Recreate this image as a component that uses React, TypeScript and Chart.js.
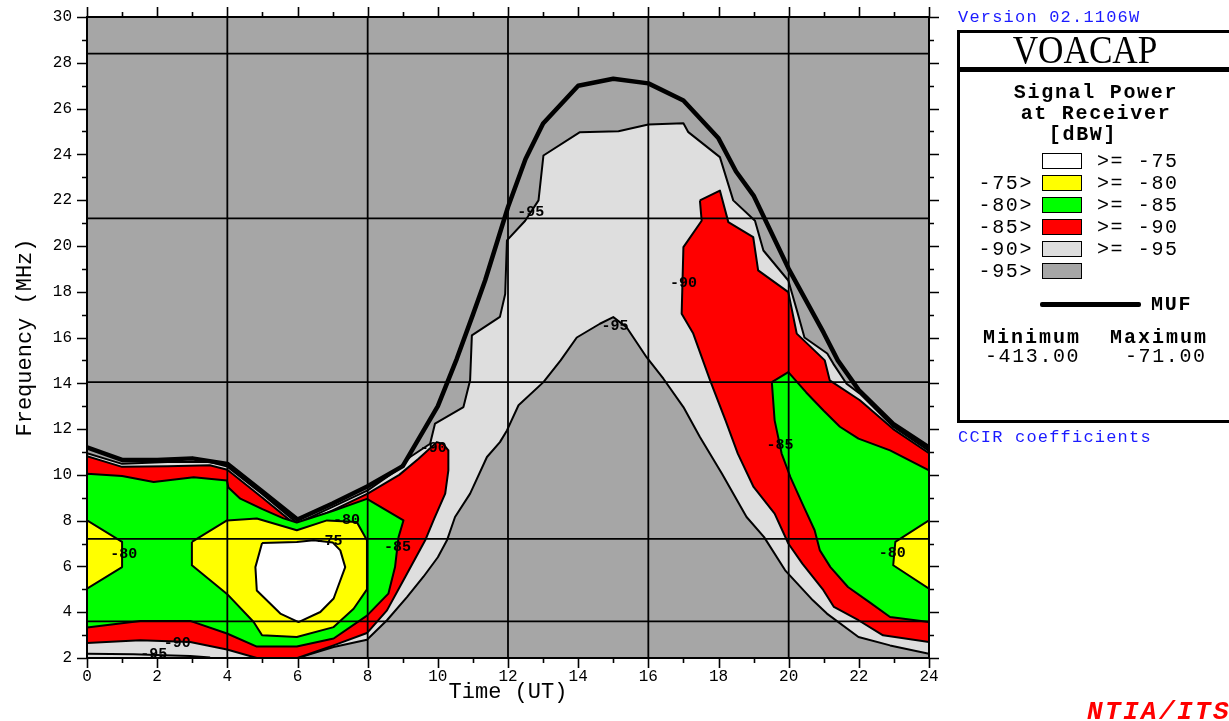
import React, { useEffect, useRef } from "react";
import { Chart, registerables } from "chart.js";

Chart.register(...registerables);

type P = [number, number];

// ---------- axis ranges ----------
const HOUR_MIN = 0;
const HOUR_MAX = 24;
const FREQ_MIN = 2;
const FREQ_MAX = 30;
const TICK_STEP = 2;

// ---------- reference lines ----------
const GRID_HOURS = [4, 8, 12, 16, 20];
const OPERATING_FREQS = [3.6, 7.2, 14.05, 21.2, 28.4];

// ---------- colours ----------
const C_WHITE = "#ffffff";
const C_YELLOW = "#ffff00";
const C_GREEN = "#00ff00";
const C_RED = "#ff0000";
const C_LGRAY = "#dedede";
const C_DGRAY = "#a6a6a6";

// ---------- MUF (t [UT], f [MHz]) ----------
const MUF: P[] = [
  [0, 11.2], [1, 10.65], [2, 10.65], [3, 10.72], [4, 10.48], [5, 9.27], [6, 8.05], [7, 8.75],
  [8, 9.5], [9, 10.38], [10, 13.0], [10.54, 15.07], [11, 17.0], [11.35, 18.5], [12, 21.7],
  [12.5, 23.8], [13, 25.35], [14, 27.0], [15, 27.3], [16, 27.1], [17, 26.35], [18, 24.7],
  [18.5, 23.25], [19, 22.2], [20, 19.0], [21, 16.2], [21.4, 15.0], [22, 13.7], [23, 12.2], [24, 11.2],
];

// ---------- >= -95 dBW region (outer contour) ----------
const GRAY_95: P[] = [
  [0, 10.95], [1, 10.48], [2.3, 10.56], [3.5, 10.56], [4, 10.36], [5, 9.15], [6, 7.88], [7, 8.6],
  [8, 9.32], [8.83, 10.2], [9.21, 10.78], [9.78, 11.36], [9.92, 12.24], [10.73, 12.96], [10.92, 14.13],
  [10.97, 16.09], [11.77, 16.9], [11.92, 17.9], [11.97, 20.24], [12.49, 21.1], [12.87, 21.99],
  [13.01, 23.95], [14.05, 24.97], [15.15, 25.01], [16, 25.3], [17, 25.36], [17.14, 24.97],
  [18.04, 23.88], [18.42, 21.99], [19.04, 21.1], [19.28, 19.8], [19.99, 18.49], [20.25, 17.1],
  [20.45, 16.0], [21.1, 15.3], [21.27, 14.86], [21.65, 13.98], [22.03, 13.55], [22.98, 12.1],
  [24, 11.05], [24, 2], [0, 2], [0, 10.95],
];

// ---------- < -95 dBW hole under the daytime hump ----------
const HOLE_95: P[] = [
  [6.0, 2.0], [7.03, 2.48], [7.98, 2.8], [8.55, 3.65], [9.12, 4.66], [9.59, 5.55], [10.0, 6.4],
  [10.26, 7.14], [10.49, 8.16], [10.92, 9.18], [11.4, 10.78], [11.77, 11.43], [11.97, 11.94],
  [12.3, 13.04], [13.01, 14.05], [13.5, 15.0], [13.96, 16.0], [14.62, 16.6], [15.0, 16.89],
  [15.38, 16.45], [15.95, 15.14], [16.43, 14.2], [17.0, 12.96], [17.47, 11.65], [18.1, 10.05],
  [18.8, 8.16], [19.3, 7.28], [19.9, 5.83], [20.69, 4.52], [21.09, 3.94], [21.99, 2.92],
  [22.89, 2.55], [24, 2.19], [24, 2], [6.0, 2.0],
];

// ---------- >= -90 dBW regions ----------
const RED_90_NIGHT: P[] = [
  [0, 10.82], [1, 10.35], [2.3, 10.38], [3.5, 10.42], [4, 10.22], [5, 9.0], [6, 7.75], [7, 8.45],
  [8, 9.18], [8.9, 10.0], [9.45, 10.7], [9.97, 11.43], [10.15, 11.35], [10.3, 11.07], [10.3, 10.2],
  [10.21, 9.18], [9.9, 8.1], [9.64, 7.14], [9.07, 5.54], [8.55, 4.08], [7.98, 3.09], [7.03, 2.55],
  [6.0, 2.0], [4.84, 2.0], [3.99, 2.37], [2.94, 2.7], [1.52, 2.77], [0, 2.65], [0, 10.82],
];
const RED_90_EVENING: P[] = [
  [17.47, 21.99], [18.04, 22.42], [18.28, 21.04], [18.99, 20.38], [19.13, 18.93], [19.99, 17.98],
  [20.23, 16.17], [21.03, 15.0], [21.17, 14.13], [22.03, 13.26], [22.98, 12.0], [24, 10.95],
  [24, 2.7], [22.69, 2.99], [21.99, 3.65], [21.29, 4.23], [20.99, 4.96], [20.39, 6.12], [19.99, 7.0],
  [19.6, 8.31], [19.0, 9.47], [18.55, 10.93], [18.2, 12.38], [17.76, 14.13], [17.28, 16.17],
  [16.95, 17.04], [17.0, 19.95], [17.52, 21.1], [17.47, 21.99],
];

// ---------- >= -85 dBW regions ----------
const GREEN_85_NIGHT: P[] = [
  [0, 10.05], [1, 9.95], [1.9, 9.69], [3.04, 9.9], [3.99, 9.75], [4.03, 9.45], [4.37, 8.96],
  [5.0, 8.5], [5.6, 8.1], [5.98, 7.92], [7.0, 8.42], [7.98, 8.95], [9.02, 8.01], [8.88, 7.28],
  [8.78, 5.97], [8.59, 4.81], [7.98, 3.85], [7.03, 2.85], [5.98, 2.5], [4.84, 2.5], [3.99, 3.07],
  [2.94, 3.62], [1.52, 3.62], [0, 3.33], [0, 10.05],
];
const GREEN_85_EVENING: P[] = [
  [19.52, 14.05], [19.99, 14.49], [20.5, 13.6], [21.0, 12.8], [21.46, 12.1], [21.99, 11.58],
  [22.89, 11.07], [24, 10.2], [24, 3.57], [22.89, 3.79], [22.29, 4.45], [21.69, 5.1], [21.19, 5.97],
  [20.89, 6.7], [20.74, 7.58], [20.39, 8.74], [20.05, 9.9], [19.8, 10.93], [19.6, 12.38], [19.52, 14.05],
];

// ---------- >= -80 dBW regions ----------
const YELLOW_80_START: P[] = [[0, 8.01], [1, 7.07], [1, 5.97], [0, 5.03], [0, 8.01]];
const YELLOW_80_DAWN: P[] = [
  [2.99, 7.07], [3.99, 8.01], [4.84, 8.09], [5.98, 7.58], [6.84, 8.01], [7.69, 7.94], [7.98, 7.14],
  [7.98, 5.0], [7.6, 4.15], [7.03, 3.35], [5.98, 2.92], [4.99, 2.99], [4.75, 3.57], [3.99, 4.8],
  [2.99, 6.05], [2.99, 7.07],
];
const YELLOW_80_END: P[] = [[24, 8.01], [23.04, 7.07], [22.98, 6.05], [24, 5.03], [24, 8.01]];

// ---------- >= -75 dBW region ----------
const WHITE_75: P[] = [
  [4.99, 7.02], [5.98, 7.07], [6.46, 7.14], [7.0, 7.05], [7.22, 6.7], [7.36, 5.97], [7.03, 4.6],
  [6.65, 4.01], [6.03, 3.57], [5.51, 3.94], [4.84, 4.95], [4.8, 5.97], [4.99, 7.02],
];

// ---------- -95 contour near the bottom edge ----------
const LINE_95_BOTTOM: P[] = [[0, 2.19], [1.33, 2.16], [2.18, 2.12], [2.94, 2.09], [3.51, 2.02]];

// ---------- contour labels ----------
const LABEL_T = [1.05, 7.4, 6.9, 8.85, 9.87, 2.57, 1.9, 12.65, 17.0, 15.05, 19.75, 22.95];
const LABEL_F = [6.55, 8.0, 7.1, 6.85, 11.15, 2.65, 2.15, 21.48, 18.37, 16.5, 11.3, 6.57];
const LABEL_TEXT = ["-80", "-80", "-75", "-85", "-90", "-90", "-95", "-95", "-90", "-95", "-85", "-80"];

// ---------- legend ----------
const LEGEND_LEFT = ["", "-75>", "-80>", "-85>", "-90>", "-95>"];
const LEGEND_RIGHT = [">= -75", ">= -80", ">= -85", ">= -90", ">= -95", ""];
const LEGEND_COLORS = [C_WHITE, C_YELLOW, C_GREEN, C_RED, C_LGRAY, C_DGRAY];
const MIN_VALUE = "-413.00";
const MAX_VALUE = "-71.00";

const MONO = '"Liberation Mono", "DejaVu Sans Mono", monospace';

const toXY = (pts: P[]) => pts.map(([x, y]) => ({ x, y }));

const polygon = (pts: P[], color: string) => ({
  data: toXY(pts),
  fill: "shape",
  backgroundColor: color,
  borderColor: "#000",
  borderWidth: 2,
  borderJoinStyle: "round",
  pointRadius: 0,
  tension: 0,
});

const line = (pts: P[], width: number) => ({
  data: toXY(pts),
  fill: false,
  borderColor: "#000",
  borderWidth: width,
  borderJoinStyle: "round",
  borderCapStyle: "butt",
  pointRadius: 0,
  tension: 0,
});

const bgPlugin = {
  id: "plotBackground",
  beforeDatasetsDraw(chart: any) {
    const { ctx, chartArea: a } = chart;
    ctx.save();
    ctx.fillStyle = C_DGRAY;
    ctx.fillRect(a.left, a.top, a.right - a.left, a.bottom - a.top);
    ctx.restore();
  },
};

const labelPlugin = {
  id: "contourLabels",
  afterDatasetsDraw(chart: any) {
    const { ctx } = chart;
    const xs = chart.scales.x;
    const ys = chart.scales.y;
    ctx.save();
    ctx.font = `bold 15px ${MONO}`;
    ctx.fillStyle = "#000";
    ctx.textAlign = "center";
    ctx.textBaseline = "middle";
    LABEL_TEXT.forEach((s, i) => {
      ctx.fillText(s, xs.getPixelForValue(LABEL_T[i]), ys.getPixelForValue(LABEL_F[i]));
    });
    ctx.restore();
  },
};

const framePlugin = {
  id: "frameTicks",
  afterDraw(chart: any) {
    const { ctx, chartArea: a } = chart;
    const xs = chart.scales.x;
    const ys = chart.scales.y;
    ctx.save();
    ctx.strokeStyle = "#000";
    ctx.lineWidth = 1.6;
    ctx.beginPath();
    for (let h = HOUR_MIN; h <= HOUR_MAX; h += 1) {
      const px = Math.round(xs.getPixelForValue(h)) + 0.5;
      const len = h % TICK_STEP === 0 ? 10 : 5;
      ctx.moveTo(px, a.bottom);
      ctx.lineTo(px, a.bottom + len);
      ctx.moveTo(px, a.top);
      ctx.lineTo(px, a.top - len);
    }
    for (let f = FREQ_MIN; f <= FREQ_MAX; f += 1) {
      const py = Math.round(ys.getPixelForValue(f)) + 0.5;
      const len = f % TICK_STEP === 0 ? 10 : 5;
      ctx.moveTo(a.left, py);
      ctx.lineTo(a.left - len, py);
      ctx.moveTo(a.right, py);
      ctx.lineTo(a.right + len, py);
    }
    ctx.stroke();
    ctx.lineWidth = 2;
    ctx.strokeRect(a.left, a.top, a.right - a.left, a.bottom - a.top);
    ctx.restore();
  },
};

function Txt(props: {
  x: number;
  y: number;
  size: number;
  align?: "left" | "center" | "right";
  bold?: boolean;
  italic?: boolean;
  color?: string;
  spacing?: number;
  family?: string;
  children: React.ReactNode;
}) {
  const { x, y, size, align = "left", bold, italic, color = "#000", spacing = 0, family = MONO } = props;
  const tx = align === "center" ? "translateX(-50%)" : align === "right" ? "translateX(-100%)" : "none";
  return (
    <div
      style={{
        position: "absolute",
        left: x,
        top: y - 0.44 * size,
        lineHeight: `${size}px`,
        fontSize: size,
        fontFamily: family,
        fontWeight: bold ? "bold" : "normal",
        fontStyle: italic ? "italic" : "normal",
        color,
        letterSpacing: spacing,
        whiteSpace: "pre",
        transform: tx,
      }}
    >
      {props.children}
    </div>
  );
}

export default function App() {
  const ref = useRef<HTMLCanvasElement>(null);

  useEffect(() => {
    const canvas = ref.current;
    if (!canvas) return;

    const layers: any[] = [
      polygon(GRAY_95, C_LGRAY),
      polygon(HOLE_95, C_DGRAY),
      polygon(RED_90_NIGHT, C_RED),
      polygon(RED_90_EVENING, C_RED),
      polygon(GREEN_85_NIGHT, C_GREEN),
      polygon(GREEN_85_EVENING, C_GREEN),
      polygon(YELLOW_80_START, C_YELLOW),
      polygon(YELLOW_80_DAWN, C_YELLOW),
      polygon(YELLOW_80_END, C_YELLOW),
      polygon(WHITE_75, C_WHITE),
      line(LINE_95_BOTTOM, 2),
      ...GRID_HOURS.map((h) => line([[h, FREQ_MIN], [h, FREQ_MAX]], 1.8)),
      ...OPERATING_FREQS.map((f) => line([[HOUR_MIN, f], [HOUR_MAX, f]], 1.8)),
      line(MUF, 4.5),
    ];
    const datasets = layers.map((d, i) => ({ ...d, order: layers.length - i }));

    const chart = new Chart(canvas, {
      type: "line",
      data: { datasets },
      options: {
        responsive: false,
        animation: false,
        devicePixelRatio: 1,
        events: [],
        layout: { padding: { left: 0, top: 17, right: 300, bottom: 0 } },
        plugins: { legend: { display: false }, tooltip: { enabled: false } },
        scales: {
          x: {
            type: "linear",
            min: HOUR_MIN,
            max: HOUR_MAX,
            grid: { display: false, drawTicks: false },
            border: { display: false },
            ticks: {
              stepSize: TICK_STEP,
              autoSkip: false,
              maxRotation: 0,
              padding: 9,
              color: "#000",
              font: { family: MONO, size: 16 },
            },
            title: {
              display: true,
              text: "Time (UT)",
              color: "#000",
              font: { family: MONO, size: 22 },
              padding: { top: 0, bottom: 16 },
            },
            afterFit: (s: any) => {
              s.height = 63;
              s.paddingLeft = 0;
              s.paddingRight = 0;
            },
          },
          y: {
            type: "linear",
            min: FREQ_MIN,
            max: FREQ_MAX,
            grid: { display: false, drawTicks: false },
            border: { display: false },
            ticks: {
              stepSize: TICK_STEP,
              autoSkip: false,
              padding: 15,
              color: "#000",
              font: { family: MONO, size: 16 },
            },
            title: {
              display: true,
              text: "Frequency (MHz)",
              color: "#000",
              font: { family: MONO, size: 22 },
              padding: { top: 12, bottom: 0 },
            },
            afterFit: (s: any) => {
              s.width = 87;
              s.paddingTop = 0;
              s.paddingBottom = 0;
            },
          },
        },
      } as any,
      plugins: [bgPlugin, labelPlugin, framePlugin],
    });

    return () => chart.destroy();
  }, []);

  const rowY = (i: number) => 161 + i * 22;

  return (
    <div
      style={{
        position: "fixed",
        left: 0,
        top: 0,
        width: 1229,
        height: 721,
        background: "#fff",
        overflow: "hidden",
      }}
    >
      <canvas ref={ref} width={1229} height={721} style={{ position: "absolute", left: 0, top: 0, width: 1229, height: 721 }} />

      <Txt x={958} y={16} size={17} spacing={1.2} color="#1a1aff">Version 02.1106W</Txt>

      <div
        style={{
          position: "absolute",
          left: 957,
          top: 30,
          width: 290,
          height: 387,
          border: "3px solid #000",
        }}
      />
      <div style={{ position: "absolute", left: 957, top: 67, width: 290, height: 5, background: "#000" }} />
      <div
        style={{
          position: "absolute",
          left: 1085,
          top: 30,
          lineHeight: "40px",
          fontSize: 40,
          fontFamily: '"Liberation Serif", serif',
          color: "#000",
          transform: "translateX(-50%) scaleX(0.88)",
          whiteSpace: "pre",
        }}
      >
        VOACAP
      </div>

      <Txt x={1096} y={92} size={20} spacing={1.7} bold align="center">Signal Power</Txt>
      <Txt x={1096} y={113} size={20} spacing={1.7} bold align="center">at Receiver</Txt>
      <Txt x={1083} y={134} size={20} spacing={1.7} bold align="center">[dBW]</Txt>

      {LEGEND_COLORS.map((c, i) => (
        <React.Fragment key={i}>
          <div
            style={{
              position: "absolute",
              left: 1042,
              top: rowY(i) - 8,
              width: 38,
              height: 14,
              background: c,
              border: "1.5px solid #000",
            }}
          />
          {LEGEND_LEFT[i] && (
            <Txt x={1033} y={rowY(i)} size={20} spacing={1.6} align="right">{LEGEND_LEFT[i]}</Txt>
          )}
          {LEGEND_RIGHT[i] && (
            <Txt x={1097} y={rowY(i)} size={20} spacing={1.6}>{LEGEND_RIGHT[i]}</Txt>
          )}
        </React.Fragment>
      ))}

      <div style={{ position: "absolute", left: 1040, top: 302, width: 101, height: 5, background: "#000", borderRadius: 2 }} />
      <Txt x={1151} y={304} size={20} spacing={1.7} bold>MUF</Txt>

      <Txt x={983} y={337} size={20} spacing={2} bold>Minimum</Txt>
      <Txt x={1110} y={337} size={20} spacing={2} bold>Maximum</Txt>
      <Txt x={985} y={356} size={20} spacing={1.6}>{MIN_VALUE}</Txt>
      <Txt x={1125} y={356} size={20} spacing={1.6}>{MAX_VALUE}</Txt>

      <Txt x={958} y={436} size={17} spacing={1.2} color="#1a1aff">CCIR coefficients</Txt>

      <Txt x={1087} y={710} size={26} spacing={2.4} bold italic color="#ff0000">NTIA/ITS</Txt>
    </div>
  );
}
